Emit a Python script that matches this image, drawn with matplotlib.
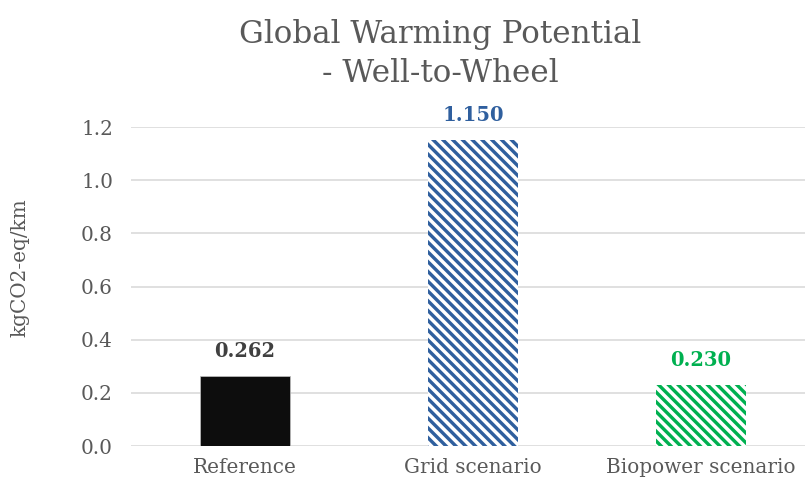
import matplotlib.pyplot as plt
import numpy as np

DPI = 88
W, H = 806, 484

def pt(px):
    # pixel size -> points at this dpi
    return px * 72.0 / DPI

categories = ["Reference", "Grid scenario", "Biopower scenario"]
values = [0.262, 1.150, 0.230]
labels = ["0.262", "1.150", "0.230"]
colors = ["#0D0D0D", "#2F5F9E", "#00B050"]
label_colors = ["#404040", "#2F5F9E", "#00B050"]
hatches = [None, "\\" * 3, "\\" * 3]
yticks = [0.0, 0.2, 0.4, 0.6, 0.8, 1.0, 1.2]

plt.rcParams["font.family"] = ["DejaVu Serif"]
plt.rcParams["hatch.linewidth"] = pt(3.4)

fig = plt.figure(figsize=(W / DPI, H / DPI), dpi=DPI)
ax = fig.add_axes([131 / W, 1 - 446 / H, 684 / W, 319 / H])

x = np.arange(len(categories))
for i in range(len(categories)):
    if hatches[i]:
        ax.bar(x[i], values[i], width=0.395, color="white", edgecolor=colors[i],
               hatch=hatches[i], linewidth=0, zorder=3)
    else:
        ax.bar(x[i], values[i], width=0.395, color=colors[i], edgecolor="#BFBFBF",
               linewidth=0.6, zorder=3)
    ax.annotate(labels[i], (x[i], values[i]), xytext=(0, pt(25)), textcoords="offset points",
                ha="center", va="center", fontsize=pt(19.5), fontweight="bold",
                color=label_colors[i])

ax.set_xlim(-0.5, 2.5)
ax.set_ylim(0, 1.2)
ax.set_yticks(yticks)
ax.set_yticklabels([f"{v:.1f}" for v in yticks])
ax.set_xticks(x)
ax.set_xticklabels(categories)
ax.tick_params(axis="both", length=0, labelsize=pt(20), labelcolor="#595959")
ax.tick_params(axis="y", pad=pt(18))
ax.tick_params(axis="x", pad=pt(12))
ax.grid(axis="y", color="#D9D9D9", linewidth=pt(1.6), zorder=0)
ax.set_axisbelow(True)
for s in ax.spines.values():
    s.set_visible(False)

fig.text(20 / W, 1 - 268 / H, "kgCO2-eq/km", rotation=90, ha="center", va="center",
         fontsize=pt(20), color="#595959")
fig.text(440 / W, 1 - 34 / H, "Global Warming Potential", ha="center", va="center",
         fontsize=pt(31), color="#595959")
fig.text(440 / W, 1 - 73 / H, "- Well-to-Wheel", ha="center", va="center",
         fontsize=pt(31), color="#595959")

fig.savefig("out.png", dpi=DPI)
